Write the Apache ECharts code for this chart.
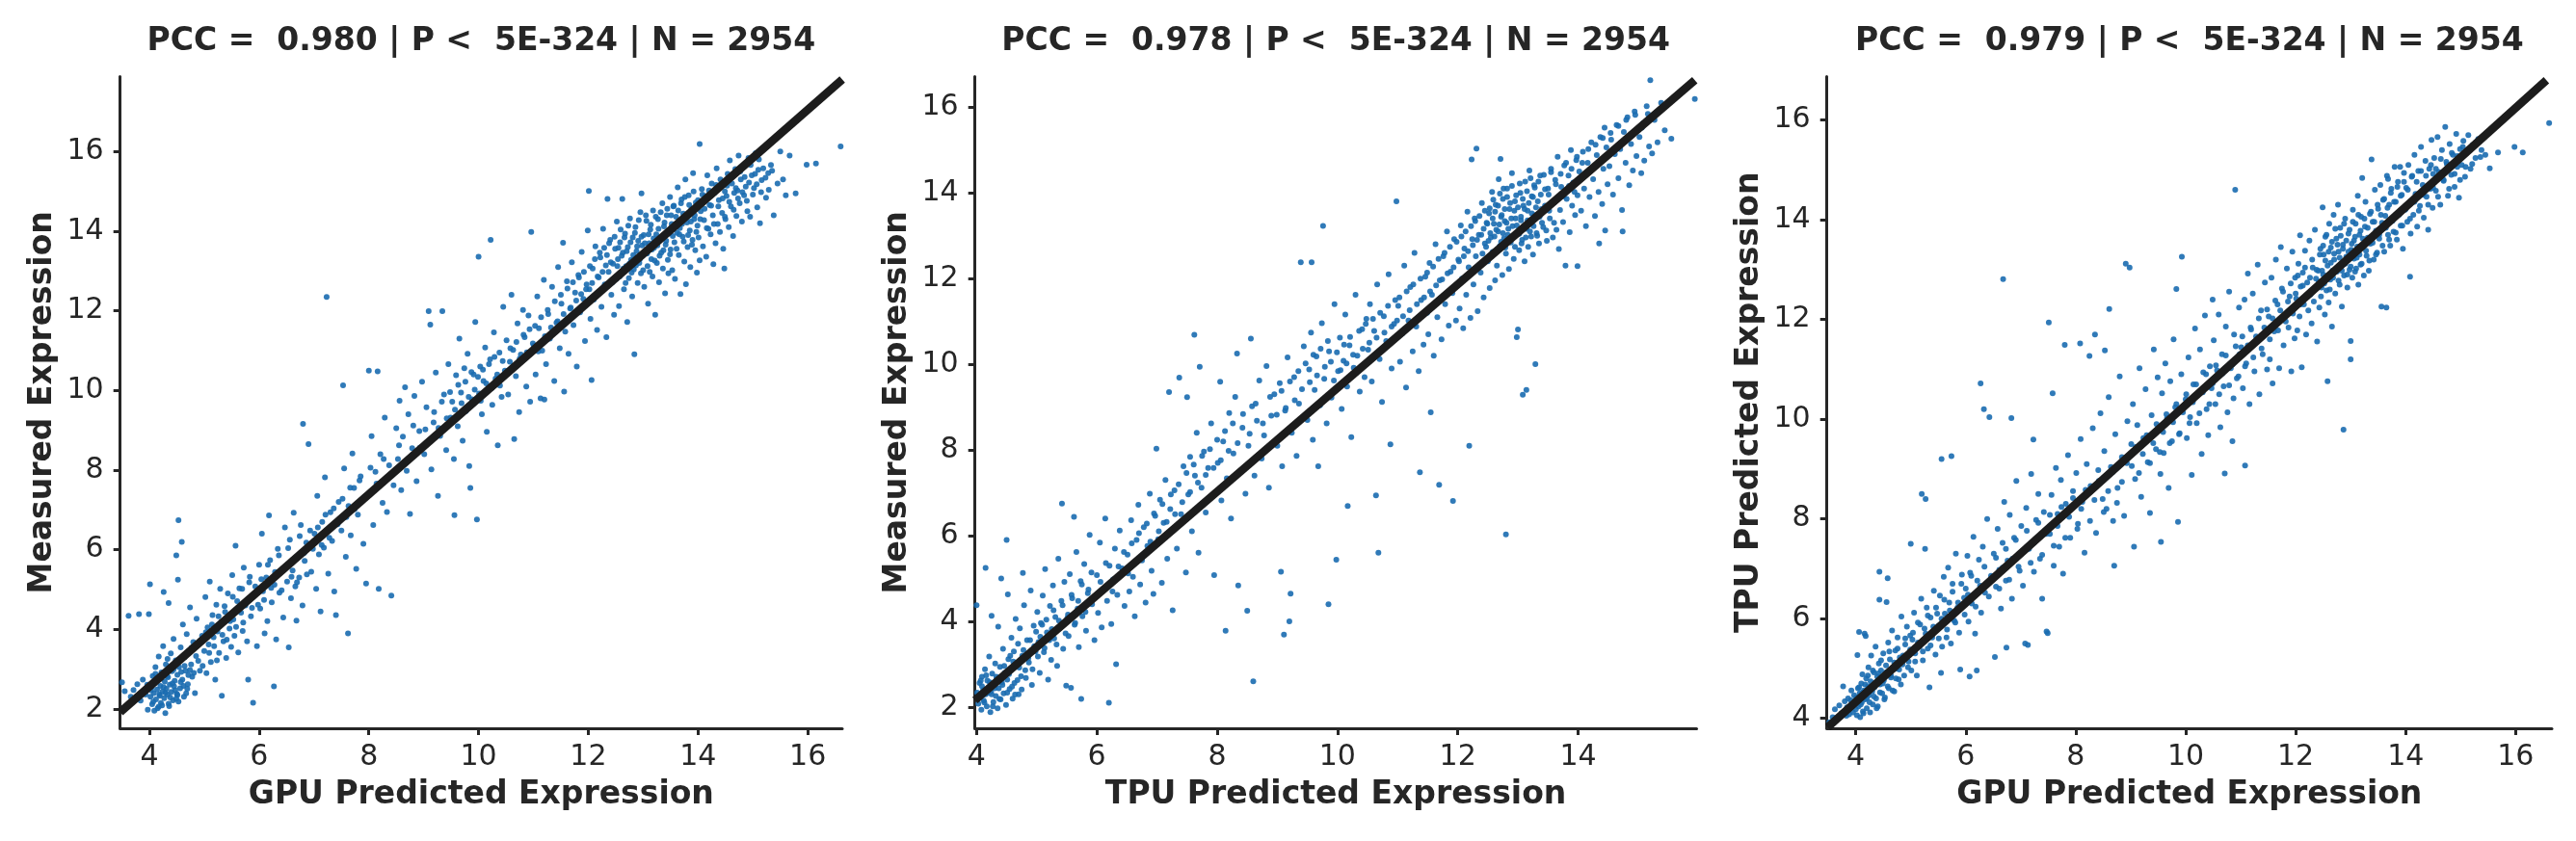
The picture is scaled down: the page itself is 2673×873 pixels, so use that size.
<!DOCTYPE html>
<html>
<head>
<meta charset="utf-8">
<script src="https://cdn.jsdelivr.net/npm/echarts@6/dist/echarts.min.js"></script>
<style>html,body{margin:0;padding:0;background:#ffffff}#chart{width:2673px;height:873px}</style>
</head>
<body>
<div id="chart"></div>
<script>
// ---------- text ----------
const panelTitles = [
  'PCC =  0.980 | P <  5E-324 | N = 2954',
  'PCC =  0.978 | P <  5E-324 | N = 2954',
  'PCC =  0.979 | P <  5E-324 | N = 2954'
];
const xAxisNames = ['GPU Predicted Expression', 'TPU Predicted Expression', 'GPU Predicted Expression'];
const yAxisNames = ['Measured Expression', 'Measured Expression', 'TPU Predicted Expression'];

// ---------- tick labels ----------
const xTicks1 = [4, 6, 8, 10, 12, 14, 16];
const yTicks1 = [2, 4, 6, 8, 10, 12, 14, 16];
const xTicks2 = [4, 6, 8, 10, 12, 14];
const yTicks2 = [2, 4, 6, 8, 10, 12, 14, 16];
const xTicks3 = [4, 6, 8, 10, 12, 14, 16];
const yTicks3 = [4, 6, 8, 10, 12, 14, 16];

// ---------- fitted regression lines (end points, data units) ----------
const fitGpuMeasured = [[3.467, 1.92], [16.63, 17.81]];
const fitTpuMeasured = [[3.974, 2.16], [15.94, 16.63]];
const fitGpuTpu = [[3.49, 3.82], [16.56, 16.80]];

// ---------- scatter points [x, y] (a subsample of the 2954 genes) ----------
// panel 1: GPU predicted vs measured — spread / outliers
const gpuVsMeasured = [
[3.50,2.67],[3.55,2.45],[3.62,4.34],[3.66,2.31],[3.71,2.48],[3.78,2.62],[3.81,4.38],[3.84,2.21],[3.88,2.74],[3.92,2.43],[3.97,1.98],[3.99,4.38],
[4.01,5.13],[4.02,2.31],[4.04,2.55],[4.05,2.12],[4.06,2.83],[4.08,2.40],[4.09,1.96],[4.10,2.66],[4.11,3.05],[4.12,2.24],[4.14,2.49],[4.15,2.02],[4.16,2.78],[4.17,3.32],[4.18,2.37],[4.20,2.58],[4.21,2.15],[4.22,2.92],[4.24,2.44],[4.25,3.58],[4.26,4.94],[4.27,2.27],[4.28,2.69],[4.29,1.90],[4.30,3.12],[4.31,2.51],[4.33,2.36],[4.34,2.80],[4.35,4.66],[4.36,2.07],[4.37,2.61],[4.39,3.40],[4.40,2.43],[4.41,2.95],[4.43,2.22],[4.44,3.76],[4.45,2.57],[4.46,2.71],[4.48,3.22],[4.49,5.86],
[4.50,2.38],[4.51,2.86],[4.52,5.25],[4.53,6.74],[4.54,3.05],[4.56,2.52],[4.57,3.55],[4.59,6.20],[4.60,2.74],[4.61,4.12],[4.63,2.31],[4.64,3.30],[4.66,2.96],[4.68,3.88],[4.70,2.62],[4.72,3.46],[4.74,4.55],[4.76,3.12],[4.78,2.81],[4.80,3.68],[4.83,2.40],[4.86,4.27],[4.89,3.21],[4.92,2.96],[4.96,3.84],
[5.00,3.46],[5.02,4.81],[5.04,2.90],[5.06,4.05],[5.08,3.62],[5.10,5.20],[5.12,3.18],[5.15,4.36],[5.17,3.80],[5.20,2.74],[5.22,4.62],[5.24,3.95],[5.27,3.41],[5.29,5.02],[5.31,4.19],[5.32,2.33],[5.35,3.70],[5.38,4.44],[5.40,3.28],[5.43,4.90],[5.46,4.02],[5.49,3.56],
[5.51,5.36],[5.53,4.25],[5.55,3.84],[5.57,6.10],[5.60,4.71],[5.62,3.42],[5.64,5.03],[5.67,4.42],[5.70,3.96],[5.72,5.55],[5.75,4.60],[5.78,3.70],[5.80,2.74],[5.82,5.18],[5.85,4.33],[5.89,2.16],[5.92,4.88],[5.96,3.58],
[6.00,5.62],[6.02,4.52],[6.05,6.40],[6.07,4.96],[6.10,3.90],[6.13,5.30],[6.15,4.21],[6.18,6.86],[6.20,5.74],[6.23,4.68],[6.27,2.57],[6.28,5.12],[6.31,3.75],[6.34,6.02],[6.37,4.92],[6.40,5.46],[6.44,4.30],[6.47,6.56],
[6.51,5.20],[6.54,3.55],[6.56,6.25],[6.58,4.78],[6.61,5.48],[6.63,6.93],[6.66,5.08],[6.68,4.22],[6.71,5.85],[6.73,5.30],[6.76,6.62],[6.79,4.60],[6.80,9.16],[6.83,5.72],[6.86,6.18],[6.90,8.65],[6.95,5.45],
[7.01,6.40],[7.04,5.02],[7.06,7.35],[7.09,5.88],[7.12,4.45],[7.15,6.70],[7.18,6.05],[7.20,7.82],[7.23,12.35],[7.26,5.40],[7.30,6.94],[7.33,6.22],[7.37,4.95],[7.40,4.36],[7.45,7.20],
[7.50,6.48],[7.53,10.13],[7.55,8.04],[7.58,5.82],[7.62,3.90],[7.63,7.10],[7.67,6.36],[7.70,8.42],[7.73,7.55],[7.77,5.52],[7.80,6.88],[7.85,7.84],[7.90,6.15],[7.95,5.15],
[8.00,10.50],[8.02,7.40],[8.05,8.85],[8.08,6.62],[8.12,7.96],[8.16,10.48],[8.18,5.02],[8.21,8.40],[8.25,7.18],[8.29,9.32],[8.33,6.95],[8.37,8.12],[8.41,4.85],[8.45,7.62],
[8.50,9.05],[8.53,8.28],[8.56,9.74],[8.59,7.50],[8.62,8.84],[8.66,10.08],[8.69,7.98],[8.72,9.40],[8.75,6.90],[8.79,8.55],[8.83,9.86],[8.87,7.72],[8.92,8.98],[8.97,10.22],
[9.01,8.40],[9.05,9.58],[9.09,11.99],[9.12,11.65],[9.14,8.02],[9.18,9.20],[9.22,10.45],[9.26,7.35],[9.30,8.86],[9.34,11.99],[9.37,9.90],[9.41,8.50],[9.45,10.66],[9.49,9.32],
[9.52,9.72],[9.55,8.28],[9.56,6.87],[9.59,10.38],[9.62,9.10],[9.65,11.30],[9.68,9.95],[9.71,8.74],[9.74,10.56],[9.77,9.48],[9.80,10.92],[9.83,8.10],[9.85,7.55],[9.88,9.78],[9.91,10.40],[9.94,11.72],[9.97,6.76],
[10.00,13.36],[10.01,9.92],[10.03,10.60],[10.06,9.40],[10.09,10.24],[10.12,11.08],[10.15,8.96],[10.18,10.02],[10.21,10.78],[10.22,13.78],[10.25,9.64],[10.28,11.46],[10.31,10.30],[10.35,8.62],[10.38,10.95],[10.42,9.84],[10.45,12.10],[10.48,10.50],
[10.51,11.26],[10.54,9.90],[10.57,10.72],[10.60,12.40],[10.63,11.02],[10.65,8.78],[10.68,10.36],[10.71,11.68],[10.74,9.46],[10.77,10.90],[10.81,12.02],[10.84,11.34],[10.87,10.10],[10.91,11.88],[10.94,9.72],[10.96,13.98],
[11.01,11.12],[11.04,10.40],[11.07,12.36],[11.10,11.56],[11.13,9.80],[11.16,11.00],[11.19,12.78],[11.20,9.77],[11.23,10.66],[11.27,11.92],[11.30,11.30],[11.34,12.60],[11.38,10.24],[11.42,11.70],[11.45,13.10],[11.48,11.06],
[11.51,12.18],[11.54,13.71],[11.56,9.97],[11.58,11.48],[11.61,12.74],[11.64,10.92],[11.67,12.06],[11.70,13.22],[11.73,11.64],[11.76,12.46],[11.79,10.60],[11.82,12.90],[11.85,11.96],[11.88,13.48],[11.91,12.30],[11.94,11.24],[11.97,12.66],[11.99,14.02],
[12.01,15.01],[12.02,12.54],[12.04,11.80],[12.06,10.26],[12.08,13.06],[12.10,12.28],[12.13,13.62],[12.16,11.52],[12.19,12.84],[12.22,13.34],[12.24,12.10],[12.27,14.06],[12.30,12.66],[12.33,11.34],[12.34,13.40],[12.35,14.81],[12.37,12.98],[12.40,13.78],[12.42,12.40],[12.45,13.18],[12.47,11.90],[12.49,13.56],
[12.51,12.80],[12.52,14.24],[12.54,13.30],[12.56,12.12],[12.58,13.72],[12.60,12.96],[12.62,14.81],[12.63,13.46],[12.65,12.54],[12.67,13.94],[12.69,13.12],[12.71,11.72],[12.72,13.60],[12.74,12.82],[12.76,14.32],[12.78,13.28],[12.80,12.36],[12.81,13.84],[12.83,13.04],[12.84,10.91],[12.86,14.10],[12.88,13.50],[12.90,12.70],[12.91,13.76],[12.93,13.20],[12.95,14.48],[12.96,12.94],[12.97,14.95],[12.98,13.64],[12.99,13.38],
[13.01,13.90],[13.02,12.60],[13.04,13.48],[13.06,14.26],[13.08,13.12],[13.09,12.18],[13.11,13.70],[13.13,14.04],[13.15,13.30],[13.17,12.86],[13.18,14.52],[13.20,13.58],[13.22,11.90],[13.24,13.92],[13.25,13.20],[13.27,14.30],[13.29,12.72],[13.31,13.82],[13.33,13.46],[13.35,14.70],[13.36,13.06],[13.38,14.12],[13.40,12.44],[13.41,13.66],[13.43,14.40],[13.45,13.28],[13.46,12.94],[13.48,13.98],[13.49,14.86],[13.50,13.54],
[13.52,14.18],[13.53,13.02],[13.55,14.62],[13.57,13.72],[13.58,12.80],[13.60,14.36],[13.62,13.96],[13.63,15.10],[13.65,13.40],[13.67,14.08],[13.68,12.42],[13.70,14.80],[13.72,13.86],[13.73,14.44],[13.75,13.24],[13.77,15.30],[13.78,12.67],[13.80,14.22],[13.81,13.60],[13.83,14.90],[13.85,14.02],[13.86,13.10],[13.88,14.56],[13.90,13.78],[13.91,15.46],[13.93,14.30],[13.95,13.52],[13.96,14.72],[13.98,12.96],[13.99,14.14],
[14.01,13.84],[14.03,16.19],[14.03,13.27],[14.05,14.50],[14.07,15.06],[14.09,13.62],[14.11,14.28],[14.13,14.88],[14.15,13.36],[14.17,15.40],[14.19,14.06],[14.21,14.66],[14.23,13.92],[14.25,15.20],[14.27,14.40],[14.28,13.17],[14.30,14.96],[14.32,13.70],[14.34,15.58],[14.36,14.18],[14.38,14.78],[14.40,13.98],[14.42,15.12],[14.44,14.46],[14.46,13.56],[14.48,13.06],[14.49,15.00],[14.50,14.30],
[14.52,14.88],[14.54,15.44],[14.56,14.10],[14.58,15.78],[14.60,14.62],[14.62,15.20],[14.64,13.88],[14.66,14.96],[14.68,15.56],[14.70,14.38],[14.72,15.02],[14.74,15.90],[14.76,14.70],[14.78,15.30],[14.80,14.24],[14.82,15.64],[14.84,14.90],[14.87,15.12],[14.90,14.50],[14.92,15.84],[14.95,14.36],[14.98,15.40],
[15.02,15.08],[15.05,15.96],[15.08,14.60],[15.10,15.54],[15.13,14.20],[15.16,15.28],[15.20,16.06],[15.24,14.84],[15.28,15.46],[15.33,15.66],[15.38,14.40],[15.45,15.20],
[15.50,16.00],[15.60,14.90],[15.67,15.90],[15.98,15.67],[16.15,15.70],[16.60,16.13],[15.55,15.30],[15.78,14.95]
];
// panel 1: dense core of the cloud
const gpuVsMeasuredCore = [
[4.07,2.18],[4.13,2.71],[4.19,2.33],[4.23,2.09],[4.26,2.55],[4.32,2.82],[4.38,2.29],[4.42,2.64],[4.47,2.47],[4.53,2.19],[4.58,2.93],[4.62,2.58],[4.67,2.39],[4.71,2.85],[4.03,2.47],[4.11,2.88],[4.17,2.06],[4.29,2.41],[4.35,2.13],[4.44,2.99],[4.49,2.26],[4.57,2.68],[4.64,3.08],[4.69,2.51],[3.93,2.36],[3.96,2.61],[4.21,2.76],[4.33,3.26],[4.51,2.35],[4.74,2.98],
[4.77,3.54],[4.81,2.91],[4.85,3.33],[4.93,3.72],[4.97,3.08],[5.03,3.93],[5.09,3.41],[5.14,4.12],[5.18,3.58],[5.23,3.22],[5.26,4.33],[5.33,3.86],[5.37,4.58],[5.41,3.74],[5.47,4.21],[5.52,4.82],[5.58,4.06],[5.63,4.48],[5.69,5.02],[5.71,4.17],[5.77,4.72],[5.83,5.32],[5.87,4.54],[5.93,5.08],[5.98,4.62],
[6.04,5.26],[6.09,4.74],[6.16,5.62],[6.22,5.04],[6.29,5.44],[6.36,5.86],[6.41,4.98],[6.48,5.58],[6.53,6.04],[6.59,5.32],[6.64,5.76],[6.69,5.18],[6.74,6.34],[6.82,5.92],[6.87,5.38],[6.93,6.48],[6.98,6.02],[7.07,6.56],[7.14,6.12],[7.21,6.88],[7.28,6.30],[7.36,7.04],[7.43,6.64],[7.52,7.28],[7.59,6.82],[7.66,7.56],[7.74,7.02],[7.83,7.74],[7.92,7.32],[8.03,8.06],[8.14,7.66],[8.27,8.28],[8.39,7.84],[8.55,8.62],[8.68,8.18],
[8.81,9.12],[8.93,8.56],[9.03,9.02],[9.11,8.74],[9.19,9.46],[9.27,9.06],[9.33,9.72],[9.42,9.30],[9.48,9.96],[9.57,9.52],[9.63,10.14],[9.69,9.68],[9.76,10.22],[9.82,9.84],[9.87,10.46],[9.93,10.02],[9.99,10.34],[10.04,9.74],[10.08,10.52],[10.14,10.18],[10.19,10.66],[10.24,10.06],[10.29,10.84],[10.34,10.40],[10.39,10.12],[10.44,10.74],[10.52,10.46],[10.58,11.06],[10.64,10.62],[10.69,11.22],[10.75,10.80],[10.82,11.40],[10.88,10.96],[10.93,11.54],[10.99,11.18],
[11.03,11.62],[11.09,10.98],[11.14,11.84],[11.21,11.36],[11.26,12.02],[11.32,11.58],[11.39,12.24],[11.44,11.74],[11.50,12.40],[11.55,11.92],[11.62,12.56],[11.68,12.08],[11.72,12.72],[11.78,12.26],[11.83,12.84],[11.87,12.42],[11.92,12.98],[11.96,12.54],[12.03,13.12],[12.07,12.70],[12.12,13.30],[12.17,12.86],[12.21,13.46],[12.26,12.98],[12.29,13.58],[12.32,13.14],[12.38,13.70],[12.41,13.22],[12.44,12.72],[12.48,13.86],
[12.53,13.12],[12.55,13.58],[12.57,12.86],[12.59,14.04],[12.61,13.38],[12.64,13.06],[12.66,13.84],[12.68,12.70],[12.70,13.50],[12.73,14.14],[12.75,13.18],[12.77,13.72],[12.79,12.96],[12.82,13.40],[12.85,13.96],[12.87,13.14],[12.89,13.62],[12.92,14.28],[12.94,13.30],[12.97,13.86],[13.00,13.02],[13.03,13.70],[13.05,14.40],[13.07,13.44],[13.10,13.92],[13.12,12.98],[13.14,14.16],[13.16,13.54],[13.19,13.82],[13.21,13.26],[13.23,14.36],[13.26,13.64],[13.28,14.06],[13.30,13.38],[13.32,14.48],[13.34,13.84],[13.37,13.52],[13.39,14.22],[13.42,13.76],[13.44,14.56],[13.47,13.94],[13.49,13.42],[13.51,14.40],[13.54,13.88],[13.56,14.64],[13.59,14.10],[13.61,13.56],[13.64,14.52],[13.66,13.92],[13.69,14.70],[13.71,14.18],[13.74,13.74],[13.76,14.86],[13.79,14.34],[13.82,13.90],[13.84,14.66],[13.87,14.24],[13.89,13.66],[13.92,15.00],[13.94,14.40],[13.97,13.98],[14.00,14.78],[14.04,14.30],[14.08,14.92],[14.12,14.56],[14.16,14.08],[14.20,15.02],[14.24,14.64],[14.29,14.18],[14.33,15.16],
[14.37,14.62],[14.41,15.30],[14.45,14.82],[14.49,14.36],[14.53,15.14],[14.57,14.74],[14.61,15.40],[14.65,14.54],[14.69,15.08],[14.73,14.82],[14.77,15.50],[14.81,14.98],[14.85,15.36],[14.89,14.76],[14.93,15.22],[14.96,15.66],[15.00,14.92],[15.04,15.44],[15.07,15.18],[15.11,15.80],[15.15,14.98],[15.19,15.58],[15.23,15.34],[15.29,15.04],[15.35,15.52]
];

// panel 2: TPU predicted vs measured — spread / outliers
const tpuVsMeasured = [
[4.00,4.38],[4.01,2.34],[4.03,2.08],[4.05,2.56],[4.06,2.22],[4.08,1.94],[4.09,2.71],[4.11,2.40],[4.12,2.15],[4.14,2.88],[4.15,5.25],[4.15,2.30],[4.17,2.02],[4.18,2.62],[4.20,2.45],[4.21,3.18],[4.23,1.88],[4.24,2.36],[4.25,4.13],[4.26,2.78],[4.28,2.12],[4.29,2.52],[4.31,3.02],[4.32,2.26],[4.34,2.66],[4.35,1.97],[4.36,3.88],[4.37,2.44],[4.39,2.94],[4.40,2.18],[4.41,5.00],[4.42,2.58],[4.44,3.36],[4.45,2.32],[4.47,2.80],[4.49,2.05],
[4.50,5.90],[4.51,2.64],[4.52,4.63],[4.53,3.12],[4.55,2.42],[4.57,2.90],[4.58,3.62],[4.60,2.20],[4.62,3.30],[4.63,2.56],[4.65,4.06],[4.67,2.98],[4.69,3.48],[4.70,2.30],[4.72,3.84],[4.74,2.72],[4.76,3.20],[4.77,5.13],[4.79,4.38],[4.81,2.86],[4.84,3.56],[4.87,3.04],[4.90,4.72],[4.92,2.52],[4.95,3.90],[4.98,3.30],
[5.01,4.22],[5.03,3.52],[5.05,2.80],[5.07,3.96],[5.10,4.60],[5.12,3.28],[5.14,5.22],[5.17,3.74],[5.19,2.64],[5.22,4.36],[5.24,3.10],[5.27,4.84],[5.29,3.60],[5.31,4.10],[5.34,2.96],[5.36,5.46],[5.38,3.84],[5.41,4.48],[5.42,6.75],[5.44,3.36],[5.46,4.92],[5.49,2.50],
[5.51,4.08],[5.53,3.66],[5.55,5.10],[5.57,2.45],[5.59,4.54],[5.62,6.44],[5.63,3.92],[5.66,5.62],[5.68,4.30],[5.70,3.40],[5.73,4.94],[5.74,2.19],[5.76,4.12],[5.79,5.34],[5.82,3.78],[5.85,4.66],[5.88,6.02],[5.92,4.40],[5.96,3.56],
[6.00,5.08],[6.02,4.20],[6.05,5.84],[6.08,3.86],[6.11,4.76],[6.14,6.40],[6.17,4.48],[6.20,2.10],[6.21,5.30],[6.24,3.94],[6.27,4.98],[6.30,5.70],[6.32,3.00],[6.34,4.62],[6.38,6.12],[6.42,5.24],[6.46,4.36],
[6.51,5.56],[6.54,4.70],[6.57,6.36],[6.60,5.04],[6.63,4.12],[6.66,5.90],[6.69,6.72],[6.72,4.86],[6.75,5.42],[6.78,6.20],[6.81,4.44],[6.84,5.76],[6.88,6.98],[6.91,5.18],[6.94,4.64],[6.97,6.46],[6.99,8.03],
[7.02,5.92],[7.05,6.84],[7.08,4.90],[7.11,6.30],[7.14,7.30],[7.17,5.46],[7.20,9.35],[7.22,6.62],[7.26,4.26],[7.29,7.06],[7.33,5.70],[7.37,9.69],[7.40,6.50],[7.44,7.62],[7.48,5.14],
[7.50,9.23],[7.52,6.96],[7.55,7.84],[7.58,6.10],[7.62,10.69],[7.63,7.40],[7.66,8.40],[7.69,5.60],[7.71,9.94],[7.74,7.12],[7.78,7.96],[7.81,6.54],[7.85,7.58],[7.90,8.62],[7.95,5.08],
[8.01,7.70],[8.05,9.59],[8.07,6.82],[8.10,8.20],[8.14,3.78],[8.16,7.34],[8.20,8.86],[8.23,6.40],[8.27,7.92],[8.30,9.24],[8.33,10.25],[8.35,4.84],[8.38,7.48],[8.42,8.52],[8.47,6.98],
[8.50,4.25],[8.52,8.10],[8.56,10.60],[8.58,9.02],[8.60,2.60],[8.62,7.40],[8.66,8.68],[8.70,9.62],[8.74,7.80],[8.78,8.34],[8.82,9.96],[8.86,7.12],[8.90,8.80],[8.95,9.30],
[9.00,8.10],[9.04,9.56],[9.06,5.16],[9.08,7.62],[9.11,3.69],[9.13,8.92],[9.17,10.16],[9.20,4.00],[9.22,4.65],[9.24,8.40],[9.28,9.70],[9.32,7.86],[9.36,9.08],[9.39,12.38],[9.44,10.42],
[9.50,8.70],[9.53,9.88],[9.56,10.74],[9.57,12.38],[9.59,8.24],[9.62,9.40],[9.65,10.18],[9.68,7.62],[9.71,9.04],[9.74,10.96],[9.76,13.23],[9.78,9.66],[9.82,8.62],[9.85,4.40],[9.86,10.30],[9.90,9.22],[9.95,11.40],
[9.98,5.44],[10.01,9.84],[10.04,10.62],[10.07,8.96],[10.10,10.08],[10.13,11.16],[10.16,9.48],[10.17,6.69],[10.20,10.44],[10.23,8.30],[10.27,9.92],[10.30,11.62],[10.33,10.20],[10.37,9.36],[10.41,10.82],[10.45,9.70],[10.48,11.06],
[10.51,10.34],[10.54,11.40],[10.57,9.60],[10.61,10.78],[10.64,6.94],[10.66,11.86],[10.68,5.60],[10.70,10.12],[10.74,9.12],[10.77,11.12],[10.81,10.54],[10.85,12.10],[10.88,8.13],[10.90,9.90],[10.94,10.94],[10.98,13.80],
[11.01,11.36],[11.04,10.06],[11.08,10.72],[11.11,12.30],[11.14,9.46],[11.18,11.02],[11.21,11.80],[11.25,10.30],[11.28,12.60],[11.31,10.88],[11.35,9.84],[11.37,7.48],[11.39,11.50],[11.43,10.46],[11.46,12.04],[11.49,11.20],
[11.51,10.70],[11.53,12.36],[11.55,8.88],[11.57,11.62],[11.60,10.20],[11.63,12.80],[11.66,11.10],[11.69,7.19],[11.70,11.96],[11.73,10.58],[11.76,12.52],[11.79,11.40],[11.82,13.10],[11.85,10.90],[11.88,12.16],[11.91,11.66],[11.92,6.81],[11.94,12.92],[11.97,11.02],
[12.01,12.44],[12.03,11.30],[12.05,13.24],[12.07,12.00],[12.09,10.84],[12.11,12.70],[12.14,11.62],[12.16,13.56],[12.18,12.26],[12.19,8.10],[12.21,11.08],[12.23,14.78],[12.24,12.92],[12.26,11.86],[12.28,13.40],[12.30,12.52],[12.31,15.03],[12.33,11.24],[12.35,13.02],[12.38,12.14],[12.40,13.76],[12.43,11.56],[12.45,12.82],[12.48,13.30],
[12.50,12.40],[12.52,13.52],[12.53,11.78],[12.55,12.96],[12.57,14.02],[12.58,12.62],[12.60,13.28],[12.62,11.96],[12.63,13.72],[12.65,12.30],[12.67,13.10],[12.68,14.32],[12.70,12.76],[12.71,14.79],[12.72,13.44],[12.74,12.08],[12.75,13.86],[12.77,12.94],[12.78,13.34],[12.80,6.03],[12.80,12.58],[12.82,14.10],[12.83,13.02],[12.85,12.22],[12.86,13.62],[12.88,12.84],[12.90,14.46],[12.91,13.22],[12.93,12.46],[12.95,13.80],[12.96,13.40],[12.98,10.63],
[13.00,10.81],[13.01,13.08],[13.02,12.66],[13.04,14.00],[13.05,13.36],[13.07,12.90],[13.08,9.29],[13.09,13.70],[13.11,12.40],[13.12,14.26],[13.14,9.40],[13.14,13.16],[13.16,13.58],[13.17,12.74],[13.19,14.52],[13.20,13.30],[13.22,12.98],[13.23,13.92],[13.25,12.56],[13.27,14.18],[13.28,13.48],[13.29,10.00],[13.31,13.06],[13.33,13.80],[13.35,12.82],[13.37,14.40],[13.39,13.62],[13.42,13.20],[13.45,14.08],[13.48,12.88],
[13.51,13.96],[13.53,13.40],[13.55,14.56],[13.58,12.96],[13.60,13.78],[13.62,14.30],[13.64,13.14],[13.66,14.84],[13.68,12.69],[13.70,13.60],[13.72,14.14],[13.75,13.32],[13.77,14.64],[13.79,12.30],[13.81,13.86],[13.84,14.40],[13.86,13.08],[13.88,15.00],[13.90,13.70],[13.92,14.24],[13.95,13.48],[13.97,14.76],[13.99,12.29],[13.99,13.94],
[14.02,14.50],[14.05,13.58],[14.08,14.96],[14.10,14.10],[14.13,13.22],[14.16,14.70],[14.19,13.90],[14.22,15.18],[14.25,14.32],[14.28,13.46],[14.31,14.88],[14.34,14.02],[14.37,15.30],[14.40,13.74],[14.42,14.56],[14.45,13.12],[14.47,15.06],[14.49,14.20],[14.44,15.52],[14.35,12.82],
[14.52,14.62],[14.55,15.24],[14.58,13.96],[14.61,14.90],[14.64,15.58],[14.67,14.34],[14.70,15.02],[14.73,13.60],[14.74,13.10],[14.76,15.42],[14.79,14.70],[14.82,15.76],[14.85,14.18],[14.88,15.14],[14.91,14.52],[14.94,15.90],[14.97,14.86],
[15.02,15.30],[15.05,14.46],[15.08,15.62],[15.10,14.75],[15.14,16.02],[15.18,15.08],[15.20,16.63],[15.23,14.92],[15.27,15.70],[15.32,15.18],[15.38,16.10],[15.44,15.46],[15.55,15.26],[15.94,16.19]
];
// panel 2: dense core of the cloud
const tpuVsMeasuredCore = [
[4.04,2.28],[4.09,2.49],[4.13,2.11],[4.16,2.74],[4.19,2.33],[4.22,2.58],[4.27,2.02],[4.30,2.44],[4.33,2.71],[4.38,2.19],[4.43,2.52],[4.46,2.96],[4.51,2.34],[4.54,2.77],[4.59,2.48],[4.61,3.06],[4.64,2.29],[4.68,2.63],[4.71,2.92],[4.75,2.41],[4.78,3.33],[4.82,2.68],[4.86,3.14],[4.89,3.56],[4.93,2.88],[4.96,3.42],[4.99,3.76],[4.07,2.62],[4.25,2.30],[4.56,3.20],
[5.02,3.18],[5.06,3.64],[5.09,3.92],[5.13,3.38],[5.16,4.04],[5.21,3.56],[5.25,3.82],[5.28,4.26],[5.33,3.46],[5.37,4.02],[5.43,4.38],[5.48,3.72],[5.52,4.16],[5.58,4.62],[5.64,3.96],[5.69,4.48],[5.75,4.86],[5.81,4.22],[5.86,4.74],[5.91,5.14],[5.97,4.58],[6.06,4.92],[6.15,5.36],[6.26,4.70],[6.36,5.28],
[6.45,5.62],[6.52,5.12],[6.58,5.82],[6.64,5.38],[6.70,6.06],[6.77,5.54],[6.83,6.28],[6.89,5.86],[6.95,6.52],[7.03,6.10],[7.09,6.74],[7.16,6.32],[7.23,6.96],[7.30,6.50],[7.36,7.20],[7.42,6.78],[7.49,7.46],[7.55,7.02],[7.61,7.66],[7.68,7.24],[7.75,7.86],[7.81,7.42],[7.88,8.02],[7.94,7.58],[8.00,8.24],[8.06,7.76],[8.13,8.44],[8.19,7.98],[8.26,8.62],[8.34,8.16],[8.43,8.84],[8.54,8.38],[8.64,9.08],[8.76,8.62],[8.88,9.24],
[8.99,8.82],[9.07,9.38],[9.14,8.98],[9.21,9.60],[9.29,9.16],[9.35,9.84],[9.41,9.42],[9.47,10.02],[9.54,9.58],[9.60,10.22],[9.66,9.74],[9.72,10.36],[9.79,9.94],[9.84,10.54],[9.89,10.06],[9.94,9.62],[9.99,10.28],[10.05,9.86],[10.11,10.46],[10.15,10.02],[10.21,10.64],[10.26,10.22],[10.31,9.80],[10.36,10.78],[10.42,10.36],[10.47,10.94],[10.53,10.50],[10.59,11.06],[10.65,10.62],[10.71,11.20],[10.78,10.74],[10.84,11.36],[10.90,10.88],[10.96,11.50],[10.99,11.02],
[11.03,11.56],[11.09,11.12],[11.15,11.70],[11.20,11.26],[11.26,11.86],[11.32,11.40],[11.38,12.00],[11.44,11.56],[11.49,12.14],[11.54,11.70],[11.59,12.28],[11.64,11.84],[11.68,12.46],[11.74,11.98],[11.78,12.60],[11.83,12.12],[11.87,12.74],[11.93,12.26],[11.98,12.86],[12.02,12.40],[12.06,12.98],[12.10,12.52],[12.13,13.10],[12.17,12.64],[12.22,13.22],[12.25,12.78],[12.29,13.34],[12.32,12.90],[12.36,13.46],[12.39,13.02],
[12.41,12.58],[12.43,13.16],[12.45,13.58],[12.47,12.74],[12.49,13.28],[12.51,12.88],[12.53,13.64],[12.54,13.06],[12.56,12.52],[12.58,13.40],[12.59,13.84],[12.61,12.98],[12.62,13.56],[12.64,13.14],[12.66,12.68],[12.67,13.70],[12.69,13.26],[12.70,13.98],[12.72,12.86],[12.73,13.48],[12.75,13.06],[12.76,14.10],[12.78,13.62],[12.79,12.72],[12.81,13.30],[12.82,13.90],[12.84,13.16],[12.85,12.90],[12.87,13.76],[12.89,13.40],[12.90,14.16],[12.92,13.00],[12.94,13.58],[12.95,12.74],[12.97,13.94],[12.98,13.24],[13.00,13.66],[13.02,13.04],[13.03,14.22],[13.05,13.44],[13.06,12.82],[13.08,13.86],[13.10,13.22],[13.11,13.62],[13.13,12.96],[13.15,14.04],[13.16,13.36],[13.18,13.76],[13.20,13.10],[13.21,14.34],[13.23,13.52],[13.25,13.90],[13.26,13.22],[13.28,14.12],[13.30,13.66],[13.32,13.00],[13.34,14.26],[13.36,13.44],[13.38,13.96],[13.40,13.30],[13.43,14.42],[13.45,13.70],[13.47,13.12],[13.50,14.10],[13.52,13.58],[13.55,14.48],[13.57,13.78],[13.60,13.30],[13.63,14.20],[13.66,13.86],
[13.71,14.44],[13.76,13.92],[13.80,14.70],[13.85,14.16],[13.89,14.56],[13.94,14.02],[13.98,14.84],[14.03,14.32],[14.07,14.70],[14.12,14.46],[14.17,15.02],[14.23,14.58],[14.29,15.12],[14.35,14.72],[14.41,15.28],[14.48,14.86],[14.54,15.40],[14.60,15.00],[14.67,15.56],[14.73,15.16],[14.80,15.70],[14.88,15.32],[14.95,15.82],[15.06,15.52],[15.16,15.84]
];

// panel 3: GPU predicted vs TPU predicted — spread / outliers
const gpuVsTpu = [
[3.52,3.92],[3.58,4.02],[3.62,4.18],[3.66,3.98],[3.70,4.26],[3.74,4.10],[3.77,4.64],[3.80,4.34],[3.83,4.05],[3.86,4.40],[3.89,4.20],[3.92,4.56],[3.95,4.12],[3.98,4.30],
[4.01,4.42],[4.02,4.06],[4.03,5.27],[4.04,4.60],[4.05,4.24],[4.06,5.73],[4.07,4.50],[4.08,4.02],[4.10,4.70],[4.11,4.32],[4.12,4.88],[4.13,4.14],[4.15,4.56],[4.16,5.70],[4.17,4.38],[4.18,5.65],[4.19,4.80],[4.20,4.20],[4.22,4.64],[4.23,5.02],[4.24,4.46],[4.26,4.12],[4.27,4.74],[4.28,5.26],[4.30,4.54],[4.31,4.28],[4.33,4.92],[4.34,4.62],[4.36,5.44],[4.37,4.40],[4.39,4.84],[4.40,4.24],[4.42,5.10],[4.43,6.94],[4.43,6.38],[4.44,4.68],[4.46,4.96],[4.48,4.50],
[4.50,5.30],[4.51,4.76],[4.53,4.42],[4.55,5.06],[4.56,6.33],[4.57,4.88],[4.58,6.81],[4.59,5.52],[4.60,4.60],[4.62,5.18],[4.64,4.82],[4.66,5.76],[4.68,4.98],[4.70,4.54],[4.72,5.36],[4.74,5.00],[4.76,5.62],[4.78,4.78],[4.80,5.22],[4.83,6.04],[4.85,5.08],[4.88,4.86],[4.90,5.48],[4.93,5.84],[4.96,5.14],[4.99,5.66],
[5.00,7.50],[5.01,4.96],[5.03,5.58],[5.06,6.12],[5.08,5.30],[5.11,4.86],[5.13,5.92],[5.16,5.44],[5.19,6.40],[5.20,8.50],[5.22,5.16],[5.25,5.80],[5.26,7.40],[5.27,8.40],[5.29,6.22],[5.31,5.40],[5.34,4.62],[5.36,6.02],[5.39,5.62],[5.42,6.56],[5.45,5.28],[5.48,6.10],
[5.51,5.86],[5.53,6.46],[5.55,4.91],[5.56,9.20],[5.57,5.44],[5.60,6.84],[5.62,6.10],[5.65,5.62],[5.68,7.02],[5.70,6.32],[5.73,5.50],[5.74,9.26],[5.76,6.70],[5.79,5.96],[5.82,7.30],[5.85,6.22],[5.88,5.72],[5.90,4.98],[5.93,6.88],[5.97,6.42],
[6.00,6.60],[6.03,7.26],[6.05,5.94],[6.07,4.84],[6.08,6.92],[6.11,6.30],[6.14,7.64],[6.17,5.70],[6.20,4.96],[6.21,6.76],[6.24,7.18],[6.27,10.72],[6.28,6.12],[6.31,7.44],[6.33,10.20],[6.35,6.52],[6.39,8.00],[6.43,10.04],[6.46,6.86],
[6.51,7.30],[6.53,5.23],[6.55,6.64],[6.58,7.80],[6.61,6.98],[6.64,6.20],[6.67,7.52],[6.68,12.81],[6.70,8.34],[6.73,6.76],[6.74,5.42],[6.76,7.16],[6.80,8.08],[6.83,10.02],[6.84,6.40],[6.88,7.62],[6.92,8.76],[6.96,7.04],
[7.01,7.86],[7.04,6.66],[7.08,5.50],[7.10,8.22],[7.13,5.47],[7.15,7.40],[7.19,8.90],[7.23,9.59],[7.24,6.94],[7.28,7.98],[7.32,8.50],[7.35,7.20],[7.39,6.40],[7.42,8.14],[7.47,5.74],[7.49,5.71],
[7.51,11.94],[7.53,7.70],[7.56,8.48],[7.58,10.52],[7.60,7.06],[7.64,9.02],[7.67,8.10],[7.70,7.44],[7.73,8.78],[7.77,6.90],[7.80,11.49],[7.82,8.30],[7.86,9.28],[7.90,7.62],[7.95,8.56],
[8.01,8.92],[8.04,7.90],[8.08,11.52],[8.09,9.60],[8.12,8.34],[8.16,7.32],[8.20,9.10],[8.25,11.27],[8.27,8.66],[8.31,9.82],[8.35,11.70],[8.37,7.72],[8.41,8.98],[8.45,10.12],[8.49,8.40],
[8.52,9.36],[8.53,11.38],[8.56,8.20],[8.60,10.44],[8.61,12.21],[8.64,9.04],[8.68,7.96],[8.70,7.06],[8.72,9.70],[8.76,8.62],[8.80,10.86],[8.84,9.24],[8.88,8.06],[8.91,13.12],[8.94,9.96],[8.98,13.04],
[9.01,9.50],[9.04,10.30],[9.06,7.44],[9.08,8.80],[9.12,9.88],[9.16,11.02],[9.19,8.44],[9.23,9.62],[9.27,10.60],[9.31,9.14],[9.35,8.12],[9.38,10.08],[9.42,11.40],[9.46,9.40],[9.49,10.84],
[9.51,9.80],[9.54,8.90],[9.55,7.54],[9.57,10.52],[9.60,9.32],[9.63,11.12],[9.66,10.02],[9.69,8.62],[9.72,10.76],[9.75,9.56],[9.78,11.60],[9.81,10.24],[9.83,12.61],[9.86,7.94],[9.88,9.70],[9.92,10.90],[9.93,13.26],
[10.00,10.40],[10.02,9.62],[10.05,11.24],[10.08,10.04],[10.11,8.88],[10.14,10.70],[10.17,11.82],[10.20,9.92],[10.23,10.52],[10.26,11.40],[10.29,9.30],[10.32,10.94],[10.35,12.08],[10.38,10.20],[10.41,9.68],[10.44,11.06],[10.47,10.62],[10.49,12.40],
[10.51,11.58],[10.54,10.30],[10.57,10.98],[10.60,12.10],[10.63,9.84],[10.66,11.30],[10.69,10.66],[10.71,8.91],[10.73,11.86],[10.76,10.14],[10.79,12.56],[10.82,11.02],[10.85,9.56],[10.88,11.70],[10.90,14.60],[10.93,10.82],[10.97,12.24],
[11.01,11.44],[11.04,10.62],[11.07,12.40],[11.08,9.07],[11.10,11.12],[11.13,12.92],[11.16,10.30],[11.19,11.80],[11.22,12.52],[11.25,10.96],[11.28,11.54],[11.31,13.10],[11.34,10.50],[11.37,12.18],[11.40,11.30],[11.44,12.74],[11.48,11.00],
[11.51,12.06],[11.53,11.20],[11.56,12.84],[11.58,10.72],[11.61,11.76],[11.64,13.20],[11.67,12.30],[11.70,11.02],[11.73,13.45],[11.75,12.62],[11.78,11.48],[11.81,12.10],[11.84,13.02],[11.87,11.84],[11.89,12.46],[11.92,10.96],[11.94,13.36],[11.96,12.20],[11.98,11.62],[11.99,12.84],
[12.01,12.42],[12.03,11.78],[12.05,13.12],[12.07,12.06],[12.08,13.69],[12.09,12.66],[12.11,11.04],[12.13,12.94],[12.15,12.30],[12.17,13.38],[12.19,11.70],[12.21,12.74],[12.23,12.18],[12.25,13.58],[12.27,12.50],[12.29,11.92],[12.31,13.04],[12.33,12.36],[12.35,13.80],[12.37,12.82],[12.39,11.56],[12.41,12.98],[12.43,12.24],[12.45,13.42],[12.47,12.64],[12.49,14.25],
[12.50,12.90],[12.51,13.30],[12.53,12.10],[12.54,13.66],[12.56,12.58],[12.58,10.76],[12.58,13.08],[12.60,12.34],[12.61,13.92],[12.63,12.80],[12.64,13.44],[12.66,11.86],[12.67,12.98],[12.69,14.10],[12.70,13.20],[12.72,12.52],[12.74,13.62],[12.75,12.96],[12.77,14.30],[12.78,13.36],[12.80,12.70],[12.81,13.84],[12.83,13.12],[12.84,12.26],[12.86,13.50],[12.87,9.79],[12.88,12.88],[12.90,14.02],[12.92,13.26],[12.94,12.64],[12.96,13.72],[12.98,13.00],
[13.00,11.20],[13.00,11.57],[13.01,13.40],[13.03,12.84],[13.04,14.20],[13.06,13.58],[13.08,12.96],[13.09,13.92],[13.11,13.24],[13.13,14.48],[13.14,12.70],[13.16,13.70],[13.18,13.10],[13.19,14.06],[13.21,14.84],[13.22,13.46],[13.24,12.88],[13.26,13.86],[13.27,14.36],[13.29,13.28],[13.31,13.64],[13.33,12.98],[13.35,14.12],[13.36,13.52],[13.38,15.21],[13.40,13.96],[13.42,13.20],[13.44,14.60],[13.46,13.78],[13.48,13.34],
[13.50,14.22],[13.52,13.62],[13.54,14.70],[13.56,12.26],[13.57,13.94],[13.59,14.40],[13.61,13.36],[13.63,14.08],[13.65,12.24],[13.66,14.88],[13.68,14.82],[13.68,13.70],[13.70,14.30],[13.72,13.48],[13.74,14.62],[13.76,14.00],[13.78,13.76],[13.80,15.06],[13.82,14.36],[13.84,13.60],[13.86,14.76],[13.88,14.12],[13.90,15.06],[13.91,13.88],[13.93,14.50],[13.95,13.42],[13.97,14.94],[13.99,14.20],
[14.01,14.64],[14.03,13.96],[14.05,15.10],[14.07,14.34],[14.08,12.86],[14.09,13.72],[14.11,14.86],[14.14,14.10],[14.16,15.30],[14.18,14.52],[14.21,13.86],[14.23,14.98],[14.26,14.28],[14.28,15.46],[14.31,14.70],[14.33,14.04],[14.36,15.18],[14.38,14.46],[14.41,13.80],[14.43,15.02],[14.45,14.62],[14.47,15.60],[14.49,14.24],[14.50,14.92],
[14.52,15.24],[14.55,14.58],[14.58,15.66],[14.60,14.96],[14.63,14.30],[14.66,15.40],[14.69,14.80],[14.72,15.86],[14.75,15.12],[14.77,14.48],[14.80,15.52],[14.83,14.90],[14.86,15.30],[14.89,14.66],[14.92,15.72],[14.94,15.06],[14.97,14.44],[14.99,15.42],
[15.02,15.10],[15.05,15.58],[15.08,14.86],[15.11,15.36],[15.14,15.70],[15.18,15.02],[15.22,15.50],[15.27,15.24],[15.32,15.62],[15.38,15.40],[15.45,15.30],[15.53,15.03],[15.68,15.35],[15.98,15.46],[16.13,15.35],[16.61,15.94]
];
// panel 3: dense core of the cloud
const gpuVsTpuCore = [
[3.84,4.22],[3.88,4.08],[3.91,4.36],[3.94,4.24],[3.97,4.46],[4.00,4.18],[4.03,4.34],[4.06,4.62],[4.09,4.28],[4.12,4.52],[4.14,4.10],[4.17,4.68],[4.20,4.40],[4.22,4.86],[4.25,4.32],[4.28,4.58],[4.31,4.96],[4.33,4.44],[4.36,4.72],[4.38,4.20],[4.41,4.90],[4.44,4.52],[4.46,5.16],[4.49,4.70],[4.52,4.38],[4.55,4.92],[4.58,4.64],[4.61,5.34],[4.64,4.86],[4.67,4.56],[4.70,5.12],[4.73,4.80],[4.76,5.40],[4.79,4.98],[4.82,4.68],
[4.86,5.26],[4.90,5.60],[4.95,5.02],[4.99,5.38],[5.04,5.72],[5.08,5.14],[5.13,5.52],[5.17,5.88],[5.22,5.34],[5.27,5.70],[5.31,6.06],[5.36,5.46],[5.41,5.84],[5.46,6.22],[5.51,5.60],[5.56,6.00],[5.61,6.38],[5.66,5.78],[5.71,6.16],[5.76,6.54],[5.81,5.92],[5.86,6.32],[5.92,6.70],[5.98,6.08],[6.04,6.48],[6.10,6.86],[6.18,6.24],[6.26,6.66],[6.34,7.04],[6.42,6.44],
[6.49,6.84],[6.55,7.22],[6.61,6.60],[6.67,7.02],[6.73,7.40],[6.79,6.78],[6.85,7.20],[6.91,7.58],[6.98,6.96],[7.04,7.36],[7.11,7.76],[7.18,7.12],[7.25,7.54],[7.32,7.92],[7.39,7.28],[7.46,7.70],[7.53,8.08],[7.60,7.46],[7.67,7.86],[7.74,8.24],[7.81,7.62],[7.88,8.04],[7.95,8.42],[8.03,7.80],[8.10,8.20],[8.18,8.58],[8.26,7.96],[8.34,8.38],[8.42,8.76],[8.51,8.14],[8.59,8.56],[8.67,8.94],[8.75,8.32],[8.84,8.74],[8.93,9.12],
[9.02,9.06],[9.09,9.44],[9.15,8.92],[9.22,9.30],[9.29,9.68],[9.35,9.12],[9.41,9.52],[9.47,9.90],[9.53,9.34],[9.59,9.74],[9.65,10.10],[9.71,9.52],[9.77,9.94],[9.83,10.30],[9.89,9.72],[9.95,10.14],[10.01,10.50],[10.07,9.92],[10.13,10.34],[10.19,10.70],[10.25,10.12],[10.31,10.54],[10.37,10.90],[10.43,10.30],[10.49,10.72],[10.55,11.08],[10.61,10.50],[10.67,10.92],[10.73,11.28],[10.79,10.68],[10.85,11.10],[10.91,11.46],[10.96,10.86],[10.98,11.30],[10.87,10.42],
[11.03,11.66],[11.08,11.06],[11.13,11.48],[11.18,11.84],[11.23,11.24],[11.28,11.66],[11.33,12.02],[11.38,11.42],[11.43,11.84],[11.48,12.20],[11.53,11.60],[11.58,12.02],[11.63,12.38],[11.68,11.78],[11.72,12.18],[11.77,12.56],[11.82,11.96],[11.86,12.36],[11.91,12.72],[11.95,12.12],[12.00,12.52],[12.04,12.88],[12.09,12.30],[12.13,12.68],[12.17,13.04],[12.22,12.46],[12.26,12.84],[12.30,13.20],[12.34,12.62],[12.38,13.00],
[12.42,12.76],[12.44,13.30],[12.46,12.46],[12.48,12.98],[12.50,13.48],[12.52,12.72],[12.54,13.18],[12.56,13.70],[12.58,12.88],[12.60,13.36],[12.62,12.60],[12.64,13.14],[12.66,13.56],[12.68,12.84],[12.70,13.32],[12.72,13.82],[12.74,13.02],[12.76,13.50],[12.78,12.78],[12.80,13.24],[12.82,13.68],[12.84,12.98],[12.86,13.42],[12.88,13.92],[12.90,13.12],[12.92,13.58],[12.94,12.90],[12.96,13.36],[12.98,13.80],[13.00,13.06],[13.02,13.52],[13.04,13.96],[13.06,13.22],[13.08,13.66],[13.10,13.02],[13.12,13.46],[13.14,14.10],[13.16,13.30],[13.18,13.78],[13.20,13.12],[13.22,13.62],[13.25,14.02],[13.28,13.38],[13.31,13.84],[13.34,13.18],[13.37,14.16],[13.40,13.54],[13.43,13.96],[13.46,13.30],[13.49,14.30],[13.52,13.70],[13.55,14.10],[13.58,13.48],[13.61,14.42],[13.64,13.84],[13.67,14.24],[13.70,13.60],[13.73,14.54],[13.76,13.98],[13.79,14.36],[13.82,13.74],[13.85,14.66],[13.88,14.10],[13.91,14.48],[13.94,13.88],[13.97,14.76],[14.00,14.22],[14.04,14.60],[14.08,14.02],[14.12,14.88],
[14.16,14.36],[14.20,14.76],[14.24,14.18],[14.28,14.98],[14.32,14.50],[14.37,14.88],[14.41,14.30],[14.46,15.10],[14.50,14.64],[14.55,15.02],[14.59,14.46],[14.64,15.22],[14.69,14.78],[14.74,15.16],[14.79,14.62],[14.84,15.34],[14.89,14.92],[14.94,15.28],[14.99,14.80],[15.04,15.46],[15.09,15.06],[15.15,15.40],[15.21,15.12],[15.28,15.56],[15.36,15.26]
];

// ---------- build ----------
const TEXT = '#262626';
const FONT = 'DejaVu Sans';
const panels = [
  {grid: {left: 124.7, top: 79.6, width: 749.3, height: 676.4}, xr: [3.467, 16.63], yr: [1.516, 17.88], xt: xTicks1, yt: yTicks1, pts: gpuVsMeasured.concat(gpuVsMeasuredCore), fit: fitGpuMeasured},
  {grid: {left: 1011.7, top: 79.6, width: 748.8, height: 676.4}, xr: [3.974, 15.97], yr: [1.506, 16.71], xt: xTicks2, yt: yTicks2, pts: tpuVsMeasured.concat(tpuVsMeasuredCore), fit: fitTpuMeasured},
  {grid: {left: 1895.7, top: 79.6, width: 752.3, height: 676.4}, xr: [3.475, 16.66], yr: [3.80, 16.87], xt: xTicks3, yt: yTicks3, pts: gpuVsTpu.concat(gpuVsTpuCore), fit: fitGpuTpu}
];

const axisLineStyle = {color: TEXT, width: 3};
const option = {
  animation: false,
  backgroundColor: '#ffffff',
  title: panels.map((p, i) => ({
    text: panelTitles[i],
    left: p.grid.left + p.grid.width / 2,
    top: 27,
    padding: 0,
    textAlign: 'center',
    textStyle: {fontFamily: FONT, fontSize: 33, fontWeight: 'bold', color: TEXT}
  })),
  grid: panels.map(p => Object.assign({containLabel: false}, p.grid)),
  xAxis: panels.map((p, i) => ({
    type: 'value', gridIndex: i, min: p.xr[0], max: p.xr[1],
    name: xAxisNames[i], nameLocation: 'middle', nameGap: 53,
    nameTextStyle: {fontFamily: FONT, fontSize: 33, fontWeight: 'bold', color: TEXT},
    axisLine: {show: true, onZero: false, lineStyle: axisLineStyle},
    axisTick: {show: true, length: 7, lineStyle: {color: TEXT, width: 3}, customValues: p.xt},
    axisLabel: {show: true, margin: 15, fontFamily: FONT, fontSize: 30, color: TEXT, customValues: p.xt},
    splitLine: {show: false}
  })),
  yAxis: panels.map((p, i) => ({
    type: 'value', gridIndex: i, min: p.yr[0], max: p.yr[1],
    name: yAxisNames[i], nameLocation: 'middle', nameGap: 64, nameRotate: 90,
    nameTextStyle: {fontFamily: FONT, fontSize: 33, fontWeight: 'bold', color: TEXT},
    axisLine: {show: true, onZero: false, lineStyle: axisLineStyle},
    axisTick: {show: true, length: 7, lineStyle: {color: TEXT, width: 3}, customValues: p.yt},
    axisLabel: {show: true, margin: 17, fontFamily: FONT, fontSize: 30, color: TEXT, customValues: p.yt},
    splitLine: {show: false}
  })),
  series: panels.flatMap((p, i) => ([
    {
      type: 'scatter', xAxisIndex: i, yAxisIndex: i, data: p.pts,
      symbol: 'circle', symbolSize: 6, silent: true, large: false,
      itemStyle: {color: '#1a6cb0', opacity: 0.9, borderWidth: 0}
    },
    {
      type: 'line', xAxisIndex: i, yAxisIndex: i, data: p.fit,
      symbol: 'none', silent: true, z: 5,
      lineStyle: {color: '#1c1c1c', width: 8.5}
    }
  ]))
};

const chart = echarts.init(document.getElementById('chart'), null, {renderer: 'canvas'});
chart.setOption(option);
</script>
</body>
</html>
